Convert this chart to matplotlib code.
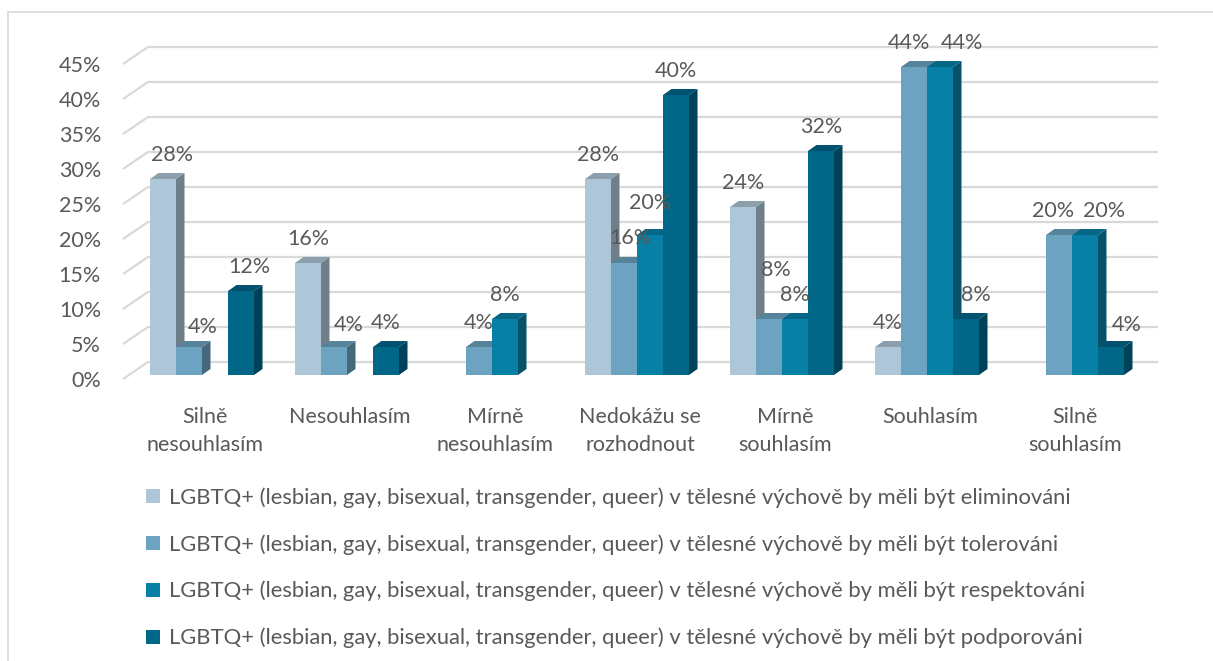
import numpy as np
import matplotlib
matplotlib.use("Agg")
import matplotlib.pyplot as plt
from matplotlib.patches import Polygon, Patch, Rectangle
from matplotlib.colors import to_rgb

plt.rcParams['font.family'] = ['Lato', 'DejaVu Sans']

categories = ["Silně\nnesouhlasím", "Nesouhlasím", "Mírně\nnesouhlasím",
              "Nedokážu se\nrozhodnout", "Mírně\nsouhlasím", "Souhlasím",
              "Silně\nsouhlasím"]
series_names = [
    "LGBTQ+ (lesbian, gay, bisexual, transgender, queer) v tělesné výchově by měli být eliminováni",
    "LGBTQ+ (lesbian, gay, bisexual, transgender, queer) v tělesné výchově by měli být tolerováni",
    "LGBTQ+ (lesbian, gay, bisexual, transgender, queer) v tělesné výchově by měli být respektováni",
    "LGBTQ+ (lesbian, gay, bisexual, transgender, queer) v tělesné výchově by měli být podporováni",
]
eliminovani = [28, 16, 0, 28, 24, 4, 0]
tolerovani = [4, 4, 4, 16, 8, 44, 20]
respektovani = [0, 0, 8, 20, 8, 44, 20]
podporovani = [12, 4, 0, 40, 32, 8, 4]
y_ticks = [0, 5, 10, 15, 20, 25, 30, 35, 40, 45]

series = [eliminovani, tolerovani, respektovani, podporovani]
colors = ["#AEC7D8", "#6BA3C1", "#0880A6", "#006789"]
text_col = "#595959"
grid_col = "#D9D9D9"
fs = 15.5

W, H = 1213, 661
fig = plt.figure(figsize=(W / 100, H / 100), dpi=100)

# axes = front plane of the bars, laid out in pixels
px_left, px_right, px_top, px_bot = 100, 1170, 30, 390
x0_px, y0_px = 202, 375          # centre of first group, bar base
ux, uy = 145.0, 7.0              # pixels per x unit / per percent
ax = fig.add_axes([px_left / W, 1 - px_bot / H,
                   (px_right - px_left) / W, (px_bot - px_top) / H])
ax.set_xlim((px_left - x0_px) / ux, (px_right - x0_px) / ux)
ax.set_ylim((y0_px - px_bot) / uy, (y0_px - px_top) / uy)
ax.axis('off')

def dx(p):
    return p / ux

def dy(p):
    return p / uy

# back wall gridlines with the slanted floor/side edge
for v in y_ticks:
    xs = [dx(123 - x0_px), dx(148 - x0_px), dx(1158 - x0_px)]
    ys = [v - dy(4), v + dy(13), v + dy(13)]
    ax.plot(xs, ys, color=grid_col, lw=1.6, solid_capstyle='butt', zorder=1)
    ax.text(dx(101 - x0_px), v - dy(6), f"{v}%", ha='right', va='center',
            fontsize=fs, color=text_col)

def shade(c, f):
    r, g, b = to_rgb(c)
    return (r * f, g * f, b * f)

bar_w = dx(26)
depth_x, depth_y = dx(8.5), dy(6)

# manual label nudges (pixels) where the original labels were shifted
nudges = {(0, 0): (9, 24), (0, 1): (14, 20), (0, 3): (8, 24), (1, 1): (15, 22),
          (3, 1): (6, 25), (3, 2): (0, 32), (4, 1): (7, 49), (5, 1): (-5, 24),
          (5, 2): (22, 24), (5, 3): (10, 24), (6, 1): (-6, 24),
          (6, 2): (19, 24), (6, 3): (16, 22)}

z = 2
for i in range(len(categories)):
    for j, vals in enumerate(series):
        v = vals[i]
        if v == 0:
            continue
        left = i - 2 * bar_w + j * bar_w
        right = left + bar_w
        c = colors[j]
        side = Polygon([(right, 0), (right + depth_x, depth_y),
                        (right + depth_x, v + depth_y), (right, v)],
                       closed=True, fc=shade(c, 0.64), ec='none', zorder=z)
        top = Polygon([(left, v), (left + depth_x, v + depth_y),
                       (right + depth_x, v + depth_y), (right, v)],
                      closed=True, fc=shade(c, 0.8), ec='none', zorder=z)
        ax.add_patch(side)
        ax.add_patch(top)
        ax.bar(left, v, width=bar_w, align='edge', color=c, zorder=z + 0.5)
        z += 1
        ox, oy = nudges.get((i, j), (0, 24))
        ax.annotate(f"{v}%", (left + bar_w / 2, v), xytext=(ox * 0.72, oy * 0.72),
                    textcoords='offset points', ha='center', va='center',
                    fontsize=fs, color=text_col, zorder=100)

for i, cat in enumerate(categories):
    ax.text(i + dx(3), dy(y0_px - 407), cat, ha='center', va='top',
            fontsize=fs, color=text_col, linespacing=1.5, clip_on=False)

handles = [Patch(facecolor=c, edgecolor='none') for c in colors]
fig.legend(handles, series_names, loc='upper left',
           bbox_to_anchor=(146 / W, 1 - 487 / H), frameon=False,
           fontsize=15.8, labelcolor=text_col, handlelength=0.62,
           handleheight=0.62, handletextpad=0.45, labelspacing=1.2,
           borderpad=0, borderaxespad=0)

# chart border
fig.patches.append(Rectangle((8 / W, -0.1), 1.2, 1 - 12 / H + 0.1,
                             transform=fig.transFigure, fill=False,
                             ec=grid_col, lw=1.2))

fig.savefig("out.png", dpi=100, facecolor='white')
